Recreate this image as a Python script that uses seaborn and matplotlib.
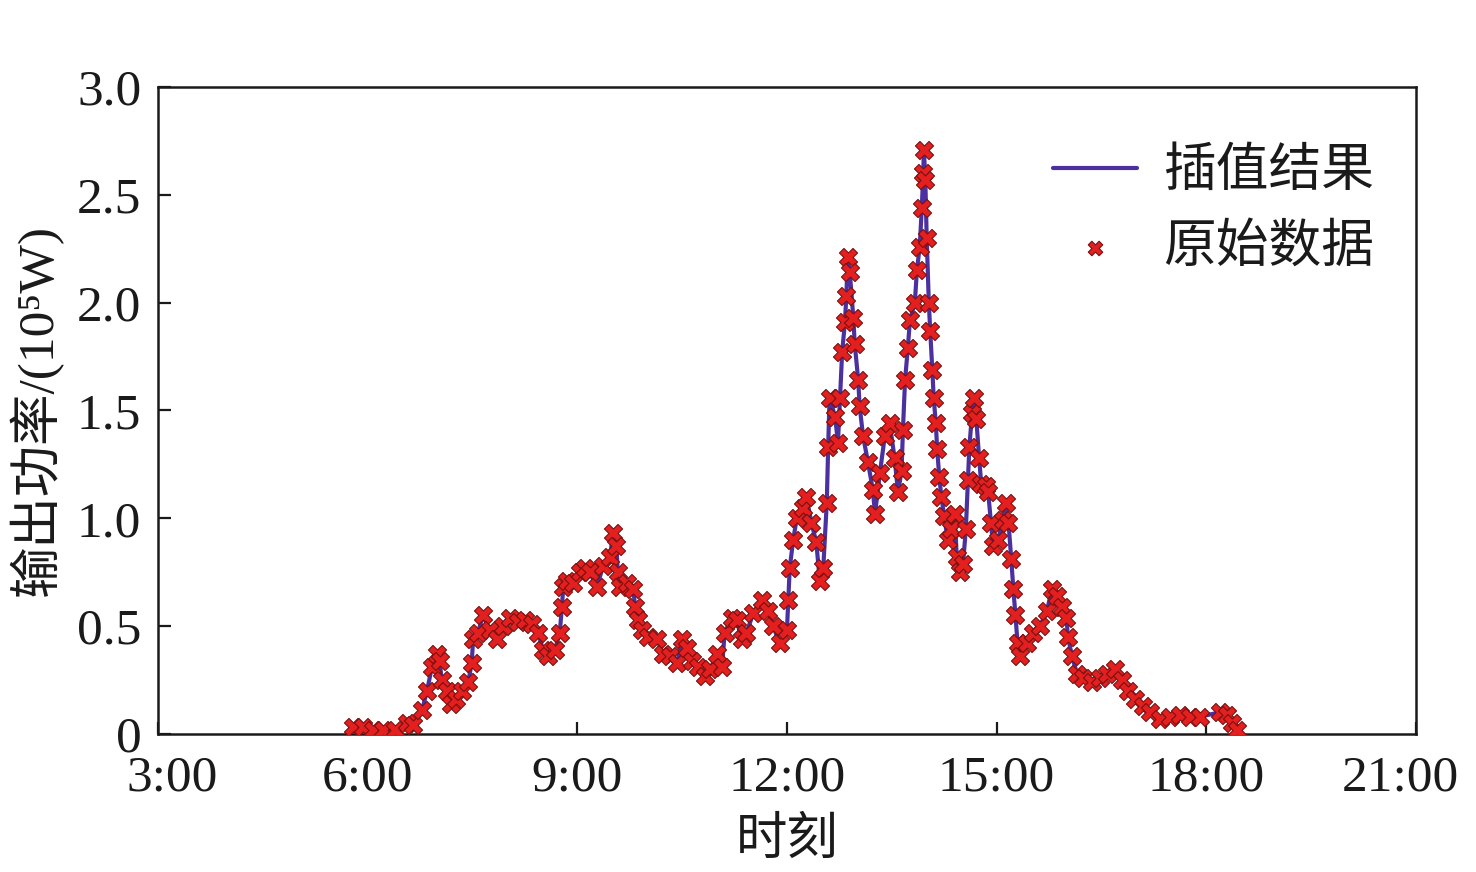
import pandas as pd
import seaborn as sns
import matplotlib
matplotlib.use("Agg")
import matplotlib.pyplot as plt
import matplotlib.transforms as mtransforms
from matplotlib.ticker import FixedLocator, FuncFormatter

# time of day in hours, output power in 1e5 W
hours = [
    5.79, 5.93, 6.08, 6.22, 6.39, 6.56, 6.65, 6.78, 6.85, 6.92, 6.99, 7.03, 7.06,
    7.13, 7.20, 7.27, 7.35, 7.44, 7.49, 7.51, 7.58, 7.65, 7.75, 7.85, 7.94, 8.04,
    8.15, 8.25, 8.35, 8.44, 8.51, 8.58, 8.68, 8.75, 8.78, 8.80, 8.85, 8.94, 9.04,
    9.11, 9.18, 9.28, 9.37, 9.47, 9.51, 9.56, 9.58, 9.61, 9.71, 9.80, 9.83, 9.87,
    9.93, 10.01, 10.14, 10.23, 10.33, 10.43, 10.50, 10.57, 10.64, 10.73, 10.83,
    10.90, 11.00, 11.07, 11.11, 11.21, 11.28, 11.35, 11.42, 11.52, 11.64, 11.73,
    11.80, 11.90, 12.00, 12.02, 12.04, 12.09, 12.14, 12.23, 12.28, 12.35, 12.42,
    12.47, 12.52, 12.57, 12.59, 12.61, 12.69, 12.73, 12.76, 12.79, 12.83, 12.85,
    12.87, 12.90, 12.95, 12.97, 13.02, 13.04, 13.09, 13.16, 13.23, 13.26, 13.33,
    13.40, 13.47, 13.54, 13.59, 13.64, 13.66, 13.69, 13.73, 13.76, 13.83, 13.86,
    13.90, 13.93, 13.95, 13.96, 13.98, 14.00, 14.03, 14.05, 14.08, 14.10, 14.13,
    14.15, 14.18, 14.21, 14.25, 14.30, 14.35, 14.40, 14.43, 14.48, 14.52, 14.56,
    14.59, 14.61, 14.65, 14.68, 14.71, 14.75, 14.78, 14.85, 14.88, 14.92, 14.95,
    15.02, 15.09, 15.13, 15.17, 15.21, 15.24, 15.27, 15.30, 15.33, 15.43, 15.52,
    15.62, 15.72, 15.79, 15.86, 15.93, 16.00, 16.02, 16.08, 16.15, 16.24, 16.36,
    16.48, 16.58, 16.69, 16.79, 16.88, 16.98, 17.09, 17.19, 17.34, 17.48, 17.62,
    17.77, 17.91, 18.19, 18.29, 18.37, 18.44,
]
power = [
    0.03, 0.03, 0.02, 0.02, 0.02, 0.05, 0.04, 0.11, 0.20, 0.31, 0.37, 0.34, 0.25,
    0.20, 0.14, 0.16, 0.20, 0.24, 0.33, 0.44, 0.47, 0.55, 0.48, 0.44, 0.50, 0.54,
    0.52, 0.53, 0.51, 0.47, 0.39, 0.36, 0.39, 0.47, 0.59, 0.68, 0.71, 0.70, 0.75,
    0.77, 0.75, 0.68, 0.78, 0.82, 0.93, 0.87, 0.75, 0.68, 0.70, 0.67, 0.59, 0.53,
    0.48, 0.45, 0.44, 0.37, 0.36, 0.33, 0.44, 0.40, 0.34, 0.31, 0.27,
    0.30, 0.37, 0.31, 0.47, 0.54, 0.53, 0.44, 0.47, 0.56, 0.62, 0.57,
    0.50, 0.42, 0.48, 0.62, 0.77, 0.90, 1.00, 1.05, 1.10, 0.98, 0.89,
    0.71, 0.77, 1.07, 1.33, 1.56, 1.47, 1.35, 1.56, 1.77, 1.91, 2.03,
    2.21, 2.14, 1.93, 1.81, 1.64, 1.52, 1.38, 1.26, 1.13, 1.02, 1.21,
    1.38, 1.44, 1.28, 1.12, 1.22, 1.41, 1.64, 1.79, 1.92, 2.00, 2.15,
    2.26, 2.44, 2.60, 2.71, 2.57, 2.30, 2.00, 1.87, 1.69, 1.56, 1.44,
    1.32, 1.19, 1.10, 1.01, 0.90, 0.95, 1.02, 0.82, 0.75, 0.79, 0.95,
    1.18, 1.33, 1.49, 1.56, 1.46, 1.28, 1.16, 1.15, 1.12, 0.98, 0.87,
    0.90, 0.99, 1.07, 0.98, 0.81, 0.67, 0.55, 0.42, 0.36, 0.42, 0.47,
    0.50, 0.57, 0.67, 0.64, 0.59, 0.54, 0.45, 0.36, 0.28, 0.26, 0.24,
    0.26, 0.28, 0.30, 0.25, 0.20, 0.16, 0.13, 0.10, 0.07, 0.08, 0.09,
    0.08, 0.08, 0.10, 0.09, 0.05, 0.02,
]
x_ticks = [3, 6, 9, 12, 15, 18, 21]
y_ticks = [0, 0.5, 1.0, 1.5, 2.0, 2.5, 3.0]

df = pd.DataFrame({"hour": hours, "power": power})

sns.set_theme(style="ticks")
plt.rcParams["font.family"] = ["Liberation Serif", "Noto Sans CJK SC", "DejaVu Serif"]
plt.rcParams["axes.unicode_minus"] = False

fig = plt.figure(figsize=(14.76, 8.72), dpi=100)
ax = fig.add_axes([0.107, 0.1583, 0.8523, 0.7419])

sns.lineplot(data=df, x="hour", y="power", ax=ax, color="#4b30a0",
             linewidth=3, label="插值结果", sort=False)
sns.scatterplot(data=df, x="hour", y="power", ax=ax, marker="X", s=170,
                color="#e3201f", edgecolor="#7a1010", linewidth=0.8,
                label="原始数据", zorder=3)

ax.set_xlim(3, 21)
ax.set_ylim(0, 3.0)
ax.xaxis.set_major_locator(FixedLocator(x_ticks))
ax.yaxis.set_major_locator(FixedLocator(y_ticks))
ax.xaxis.set_major_formatter(FuncFormatter(lambda v, p: f"{int(v)}:00"))
ax.yaxis.set_major_formatter(FuncFormatter(lambda v, p: "0" if v == 0 else f"{v:.1f}"))
ax.tick_params(direction="in", length=9, width=1.6, labelsize=37, pad=12,
               colors="#1a1a1a")
ax.tick_params(axis="x", pad=15)
for sp in ax.spines.values():
    sp.set_linewidth(1.8)
    sp.set_color("#1a1a1a")

# first and last time labels sit a bit inward, like the original
xlabels = ax.get_xticklabels()
xlabels[0].set_transform(xlabels[0].get_transform()
                         + mtransforms.ScaledTranslation(0.14, 0, fig.dpi_scale_trans))
xlabels[-1].set_transform(xlabels[-1].get_transform()
                          + mtransforms.ScaledTranslation(-0.16, 0, fig.dpi_scale_trans))

ax.set_xlabel("时刻", fontsize=37, labelpad=12, color="#1a1a1a")
ax.set_ylabel("输出功率/(10⁵W)", fontsize=37, labelpad=10, color="#1a1a1a")

leg = ax.legend(loc="upper right", bbox_to_anchor=(0.967, 0.905), frameon=False,
                fontsize=38, handlelength=1.6, handletextpad=0.5,
                labelspacing=0.5, borderpad=0, borderaxespad=0, markerscale=0.8)
for t in leg.get_texts():
    t.set_color("#1a1a1a")

fig.savefig("out.png", dpi=100)
